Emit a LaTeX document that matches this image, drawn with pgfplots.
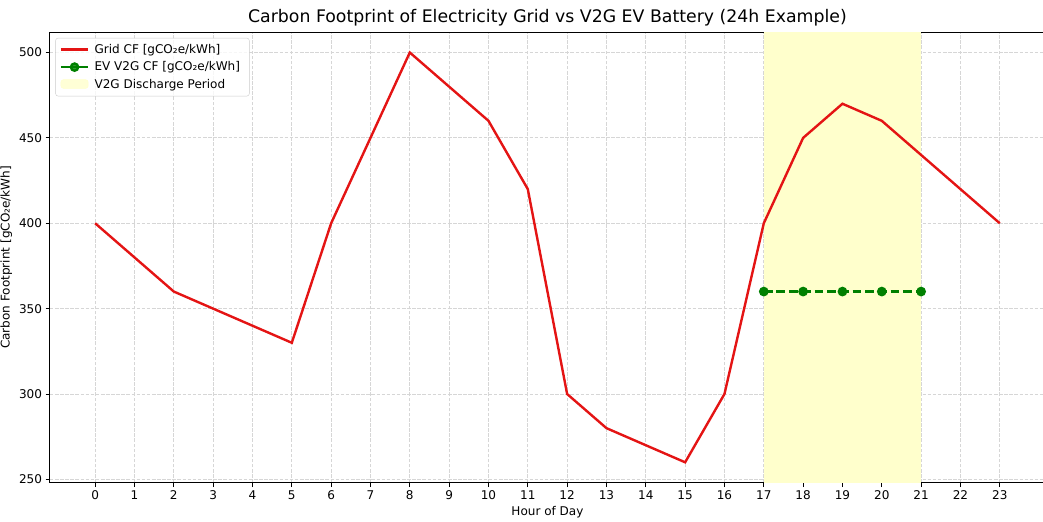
\documentclass[border=0pt]{standalone}
\usepackage{pgfplots}
\pgfplotsset{compat=1.18}
\usepackage{fontspec}
\setmainfont{DejaVu Sans}
\definecolor{gridred}{RGB}{228,20,20}
\definecolor{mplgreen}{RGB}{0,128,0}
\definecolor{spanyellow}{RGB}{255,255,204}
\pgfplotsset{
  lineleg/.style={legend image code/.code={\draw[##1] (0cm,0cm) -- (0.93cm,0cm);}},
  markleg/.style={legend image code/.code={\draw[##1, solid] (0cm,0cm) -- (0.93cm,0cm); \draw[##1] plot coordinates {(0.465cm,0cm)};}},
  spanleg/.style={legend image code/.code={\fill[spanyellow] (0cm,-0.13cm) rectangle (0.93cm,0.17cm);}},
}
\begin{document}
\begin{tikzpicture}
\begin{axis}[
  name=ax,
  width=13.356in, height=6.05in, scale only axis,
  xmin=-1.15, xmax=24.15, ymin=248, ymax=512,
  xtick={0,...,23}, ytick={250,300,...,500},
  tick pos=left,
  axis line style={line width=0.93pt},
  tick align=outside, major tick length=4.1pt,
  tick style={black, line width=0.93pt},
  /pgf/number format/assume math mode=true,
  ticklabel style={font=\fontsize{11.67}{14}\selectfont},
  grid=major,
  major grid style={black!16, line width=0.93pt, dash pattern=on 3.45pt off 1.5pt},
  title={Carbon Footprint of Electricity Grid vs V2G EV Battery (24h Example)},
  title style={font=\fontsize{16.8}{20}\selectfont, yshift=-4pt},
  xlabel={Hour of Day}, ylabel={Carbon Footprint [gCO₂e/kWh]},
  label style={font=\fontsize{11.67}{14}\selectfont},
  legend style={font=\fontsize{11.67}{14}\selectfont, draw=black!20, rounded corners=2.5pt, fill=white, fill opacity=0.8, text opacity=1, row sep=2.6pt, inner xsep=4pt, inner ysep=4pt, nodes={inner xsep=5pt}, at={(0.0055,0.987)}, anchor=north west},
  legend cell align=left,
]
\addplot[fill=spanyellow, draw=none, forget plot] coordinates {(17,248) (17,512) (21,512) (21,248)} -- cycle;
\addplot[gridred, line width=2.33pt, lineleg] coordinates {
(0,400) (1,380) (2,360) (3,350) (4,340) (5,330) (6,400) (7,450) (8,500) (9,480) (10,460) (11,420)
(12,300) (13,280) (14,270) (15,260) (16,300) (17,400) (18,450) (19,470) (20,460) (21,440) (22,420) (23,400)};
\addlegendentry{Grid CF [gCO₂e/kWh]}
\addplot[mplgreen, line width=2.33pt, dash pattern=on 8.6pt off 3.7pt, mark=*, mark size=3.5pt, mark options={solid}, markleg] coordinates {
(17,360) (18,360) (19,360) (20,360) (21,360)};
\addlegendentry{EV V2G CF [gCO₂e/kWh]}
\addlegendimage{spanleg}
\addlegendentry{V2G Discharge Period}
\end{axis}
\pgfresetboundingbox
\useasboundingbox ([xshift=-0.67in,yshift=-0.52in]ax.south west) rectangle ([xshift=-0.027in,yshift=0.43in]ax.north east);
\end{tikzpicture}
\end{document}
